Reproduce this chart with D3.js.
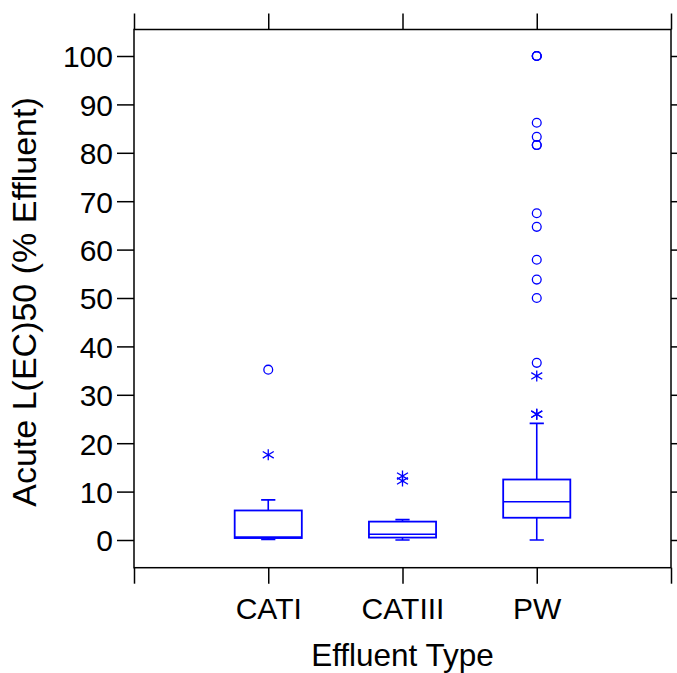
<!DOCTYPE html>
<meta charset="utf-8">
<script src="https://d3js.org/d3.v7.min.js"></script>
<style>
  body { margin: 0; background: #fff; }
  text { font-family: "Liberation Sans", Arial, sans-serif; }
</style>
<div id="chart"></div>
<script>
// box plot of acute L(EC)50 by effluent type

const categories = ["CATI", "CATIII", "PW"];
const whiskerLow = [0.1, 0.0, 0.0];
const q1 = [0.4, 0.5, 4.6];
const median = [0.6, 1.2, 7.9];
const q3 = [6.1, 3.8, 12.5];
const whiskerHigh = [8.3, 4.2, 24.1];
// near outliers (drawn as stars) and far outliers (drawn as circles)
const nearOut = [[17.6], [13.2, 12.2], [33.9, 26.0, 26.0]];
const farOut = [[35.2], [], [100, 100, 100, 86.2, 83.3, 81.6, 81.6, 67.5, 64.7, 57.9, 53.8, 50.0, 36.6]];
const yTicks = [0, 10, 20, 30, 40, 50, 60, 70, 80, 90, 100];

const width = 677, height = 673;
const frameL = 134, frameR = 671, frameT = 29.5, frameB = 567.7;
const blue = "#0000ff";

const svg = d3.select("#chart").append("svg")
    .attr("width", width)
    .attr("height", height);

const x = d3.scaleLinear().domain([0, 4]).range([frameL, frameR]);
const y = d3.scaleLinear().domain([0, 100]).range([540, 56]);

// frame
svg.append("rect")
    .attr("x", frameL).attr("y", frameT)
    .attr("width", frameR - frameL).attr("height", frameB - frameT)
    .attr("fill", "none").attr("stroke", "#000").attr("stroke-width", 1.5);

function styleAxis(g) {
  g.select(".domain").remove();
  g.selectAll(".tick line").attr("stroke", "#000").attr("stroke-width", 1.5);
  g.selectAll("text").attr("fill", "#000").style("font-size", "30px")
    .style("font-family", "'Liberation Sans', Arial, sans-serif");
}

svg.append("g")
    .attr("transform", `translate(${frameL},0)`)
    .call(d3.axisLeft(y).tickValues(yTicks).tickSize(17).tickPadding(4))
    .call(styleAxis)
    .selectAll("text").attr("dy", "0.36em");

svg.append("g")
    .attr("transform", `translate(${frameR},0)`)
    .call(d3.axisRight(y).tickValues(yTicks).tickSize(17).tickFormat(""))
    .call(styleAxis);

svg.append("g")
    .attr("transform", `translate(0,${frameB})`)
    .call(d3.axisBottom(x).tickValues([0, 1, 2, 3, 4]).tickSize(16).tickPadding(14)
      .tickFormat(i => categories[i - 1] || ""))
    .call(styleAxis);

svg.append("g")
    .attr("transform", `translate(0,${frameT})`)
    .call(d3.axisTop(x).tickValues([0, 1, 2, 3, 4]).tickSize(16).tickFormat(""))
    .call(styleAxis);

// boxes
const boxes = categories.map((c, i) => ({
  i: i + 1, lo: whiskerLow[i], q1: q1[i], med: median[i], q3: q3[i], hi: whiskerHigh[i]
}));
const halfBox = 0.25, halfCap = 0.053;

const bx = svg.append("g").attr("stroke", blue).attr("fill", "none");

bx.selectAll(".whisker").data(boxes).join("path")
    .attr("stroke-width", 1.6)
    .attr("d", d =>
      `M${x(d.i)},${y(d.q3)}V${y(d.hi)}M${x(d.i - halfCap)},${y(d.hi)}H${x(d.i + halfCap)}` +
      `M${x(d.i)},${y(d.q1)}V${y(d.lo)}M${x(d.i - halfCap)},${y(d.lo)}H${x(d.i + halfCap)}`);

bx.selectAll(".box").data(boxes).join("rect")
    .attr("stroke-width", 1.8)
    .attr("x", d => x(d.i - halfBox))
    .attr("width", d => x(d.i + halfBox) - x(d.i - halfBox))
    .attr("y", d => y(d.q3))
    .attr("height", d => y(d.q1) - y(d.q3));

bx.selectAll(".median").data(boxes).join("line")
    .attr("stroke-width", 1.6)
    .attr("x1", d => x(d.i - halfBox)).attr("x2", d => x(d.i + halfBox))
    .attr("y1", d => y(d.med)).attr("y2", d => y(d.med));

// outliers
const circles = farOut.flatMap((arr, i) => arr.map(v => ({ i: i + 1, v })));
const stars = nearOut.flatMap((arr, i) => arr.map(v => ({ i: i + 1, v })));

bx.selectAll(".far").data(circles).join("circle")
    .attr("stroke-width", 1.3)
    .attr("cx", d => x(d.i)).attr("cy", d => y(d.v)).attr("r", 4.4);

const s = 5.5;
bx.selectAll(".near").data(stars).join("path")
    .attr("stroke-width", 1.3)
    .attr("transform", d => `translate(${x(d.i)},${y(d.v)})`)
    .attr("d", `M0,${-s}V${s}M${-s},${-s * 0.6}L${s},${s * 0.6}M${-s},${s * 0.6}L${s},${-s * 0.6}`);

// axis titles
svg.append("text")
    .attr("x", (frameL + frameR) / 2).attr("y", 666)
    .attr("text-anchor", "middle")
    .style("font-size", "31.5px")
    .text("Effluent Type");

svg.append("text")
    .attr("transform", `translate(36,302) rotate(-90)`)
    .attr("text-anchor", "middle")
    .style("font-size", "34px")
    .text("Acute L(EC)50 (% Effluent)");
</script>
